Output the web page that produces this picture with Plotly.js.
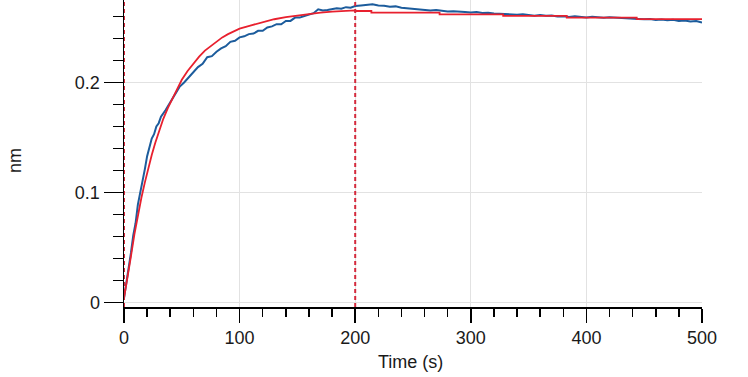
<!DOCTYPE html>
<html>
<head>
<meta charset="utf-8">
<script src="https://cdn.plot.ly/plotly-3.0.1.min.js"></script>
<style>html,body{margin:0;padding:0;background:#fff;}#chart{width:748px;height:377px;}</style>
</head>
<body>
<div id="chart"></div>
<script>
// Measured response (blue)
const dataTime = [0,2,4,6,8,10,12,14,16,18,20,22,24,26,28,30,
  32,36,40,44,48,52,56,60,64,68,72,76,80,84,88,92,96,100,104,108,112,116,120,124,128,132,136,140,144,148,152,156,160,164,168,172,176,180,184,188,192,196,200,
  205,210,215,220,225,230,235,240,245,250,255,260,265,270,275,280,285,290,295,300,305,310,315,320,325,330,335,340,345,350,355,360,365,370,375,380,385,390,395,400,405,410,415,420,425,430,435,440,445,450,455,460,465,470,475,480,485,490,495,500];
const dataNm = [0.004,0.017,0.033,0.045,0.061,0.072,0.089,0.099,0.112,0.121,0.133,0.140,0.149,0.153,0.160,0.163,
  0.169,0.175,0.182,0.188,0.196,0.200,0.205,0.209,0.214,0.217,0.223,0.224,0.228,0.231,0.233,0.237,0.238,0.241,0.242,0.244,0.2445,0.247,0.247,0.250,0.251,0.253,0.253,0.256,0.256,0.259,0.259,0.2605,0.262,0.263,0.2665,0.2655,0.266,0.2665,0.2675,0.267,0.2685,0.268,0.2695,
  0.2700,0.2705,0.2712,0.2700,0.2698,0.2688,0.2692,0.2680,0.2676,0.2668,0.2665,0.2660,0.2655,0.2658,0.2650,0.2645,0.2648,0.2641,0.2640,0.2636,0.2640,0.2632,0.2634,0.2628,0.2625,0.2620,0.2618,0.2616,0.2620,0.2612,0.2608,0.2614,0.2606,0.2610,0.2600,0.2603,0.2596,0.2602,0.2598,0.2590,0.2597,0.2594,0.2588,0.2593,0.2591,0.2584,0.2587,0.2582,0.2578,0.2574,0.2577,0.2569,0.2572,0.2566,0.2570,0.2560,0.2563,0.2555,0.2558,0.2545];

// Fitted curve (red)
const fitTime = [0,3,6,9,12,15,18,21,24,27,30,34,38,42,46,50,55,60,65,70,75,80,85,90,95,100,110,120,130,140,150,160,170,180,190,200,
  200,214,214,273,273,328,328,383,383,443.5,443.5,500];
const fitNm = [0.004,0.022,0.042,0.062,0.079,0.095,0.109,0.122,0.134,0.145,0.155,0.167,0.177,0.186,0.195,0.2025,0.2105,0.2175,0.2235,0.229,0.233,0.237,0.241,0.244,0.2465,0.249,0.252,0.255,0.2575,0.2595,0.261,0.262,0.2635,0.2645,0.265,0.2655,
  0.265,0.265,0.2635,0.2635,0.262,0.262,0.2605,0.2605,0.259,0.259,0.2577,0.2577];

// Step boundaries (dashed markers)
const stepTimes = [0, 200];

const xTicks = [0,100,200,300,400,500];
const yTicks = [0,0.1,0.2];
const yTickText = ['0','0.1','0.2'];

const font = {family:'"Liberation Sans", Arial, sans-serif', size:18, color:'#1a1a1a'};

const traces = [
  {x:dataTime, y:dataNm, type:'scatter', mode:'lines', line:{color:'#1c5c9c', width:2, shape:'linear'}, hoverinfo:'skip'},
  {x:fitTime, y:fitNm, type:'scatter', mode:'lines', line:{color:'#e8202e', width:1.8}, hoverinfo:'skip'}
];

const shapes = stepTimes.map(t => ({type:'line', xref:'x', yref:'paper', x0:t, x1:t, y0:0, y1:1,
  line:{color:'#d42a3c', width:2, dash:'4px,3px'}, layer:'above'}));

const layout = {
  width:748, height:377,
  margin:{l:124, r:46, t:0, b:70},
  paper_bgcolor:'#fff', plot_bgcolor:'#fff',
  showlegend:false,
  font:font,
  xaxis:{range:[0,500], tickvals:xTicks, ticks:'outside', ticklen:14, tickwidth:1.5, tickcolor:'#000',
    showline:true, linecolor:'#000', linewidth:1.5, showgrid:true, gridcolor:'#e2e2e2', gridwidth:1, zeroline:false,
    minor:{dtick:20, ticks:'outside', ticklen:8, tickwidth:1.5, tickcolor:'#000', showgrid:false},
    tickfont:font, fixedrange:true},
  yaxis:{range:[-0.0041,0.275], tickvals:yTicks, ticktext:yTickText, ticks:'outside', ticklen:19, tickwidth:1.5, tickcolor:'#000',
    showline:true, linecolor:'#000', linewidth:1.5, showgrid:true, gridcolor:'#e2e2e2', gridwidth:1, zeroline:false,
    minor:{dtick:0.02, tick0:0, ticks:'outside', ticklen:10, tickwidth:1.5, tickcolor:'#000', showgrid:false},
    tickfont:font, fixedrange:true},
  shapes:shapes,
  annotations:[
    {text:'nm', xref:'paper', yref:'paper', x:-0.1886, y:0.479, textangle:-90, showarrow:false, xanchor:'center', yanchor:'middle', font:font},
    {text:'Time (s)', xref:'paper', yref:'paper', x:0.495, y:-0.179, showarrow:false, xanchor:'center', yanchor:'middle', font:font}
  ]
};

Plotly.newPlot('chart', traces, layout, {displayModeBar:false, staticPlot:true});
</script>
</body>
</html>
